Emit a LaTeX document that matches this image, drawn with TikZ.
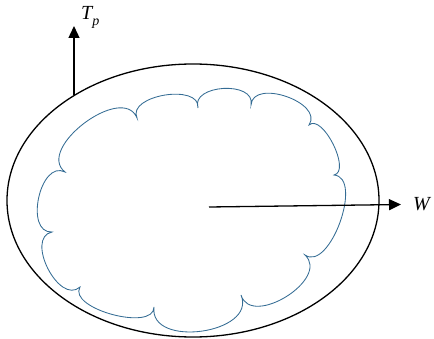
\documentclass[tikz,border=0pt]{standalone}
\usepackage{fontspec}
\setmainfont{Liberation Serif}
\usetikzlibrary{arrows.meta}
\definecolor{cloudblue}{RGB}{52,108,148}
\begin{document}
\begin{tikzpicture}[x=1pt,y=1pt,
  outline/.style={draw=black,line width=1.3pt},
  cloudline/.style={draw=cloudblue,line width=0.85pt},
  vec/.style={line width=1.3pt,-{Triangle[length=12pt,width=11pt]}},
  lbl/.style={font=\fontsize{20}{22}\selectfont\itshape,inner sep=0pt}]
\useasboundingbox (0,0) rectangle (434,338);
\coordinate (C) at (193,137.5);
\draw[outline] (C) ellipse [x radius=186, y radius=136.5];
% cloud
\coordinate (P1) at (137,220);
\coordinate (P2) at (198,230);
\coordinate (P3) at (251,233);
\coordinate (P4) at (309,213);
\coordinate (P5) at (334,163);
\coordinate (P6) at (305,83);
\coordinate (P7) at (241,43);
\coordinate (P8) at (154,31);
\coordinate (P9) at (80,51);
\coordinate (P10) at (52,106);
\coordinate (P11) at (65,166);
\draw[cloudline] (P1)
  .. controls (126.7,242.8) and (200.5,254.9) .. (P2)
  .. controls (190.2,253.7) and (256.1,257.5) .. (P3)
  .. controls (252.9,259.9) and (324.1,235.4) .. (P4)
  .. controls (322.5,224.9) and (351.6,166.6) .. (P5)
  .. controls (363.9,160.4) and (329.6,65.8) .. (P6)
  .. controls (330.6,59.1) and (251.2,9.5) .. (P7)
  .. controls (257.3,4.3) and (148.8,-10.7) .. (P8)
  .. controls (154,6) and (67.4,29.4) .. (P9)
  .. controls (59.2,32.3) and (24.6,100.2) .. (P10)
  .. controls (24,104.7) and (40.1,178.8) .. (P11)
  .. controls (35.1,189.4) and (122.8,255.3) .. (P1) -- cycle;
% Tp arrow
\coordinate (Tbase) at (74,242.5);
\coordinate (Ttip) at (74,312);
\draw[vec] (Tbase) -- (Ttip);
\node[lbl,anchor=west] (Tp) at (81,321) {T\raisebox{-0.3em}{\fontsize{14}{16}\selectfont p}};
% W arrow
\coordinate (Wstart) at (209,131);
\coordinate (Wtip) at (401,133.5);
\draw[vec] (Wstart) -- (Wtip);
\node[lbl,anchor=west] (Wl) at (413,134) {W};
\end{tikzpicture}
\end{document}
